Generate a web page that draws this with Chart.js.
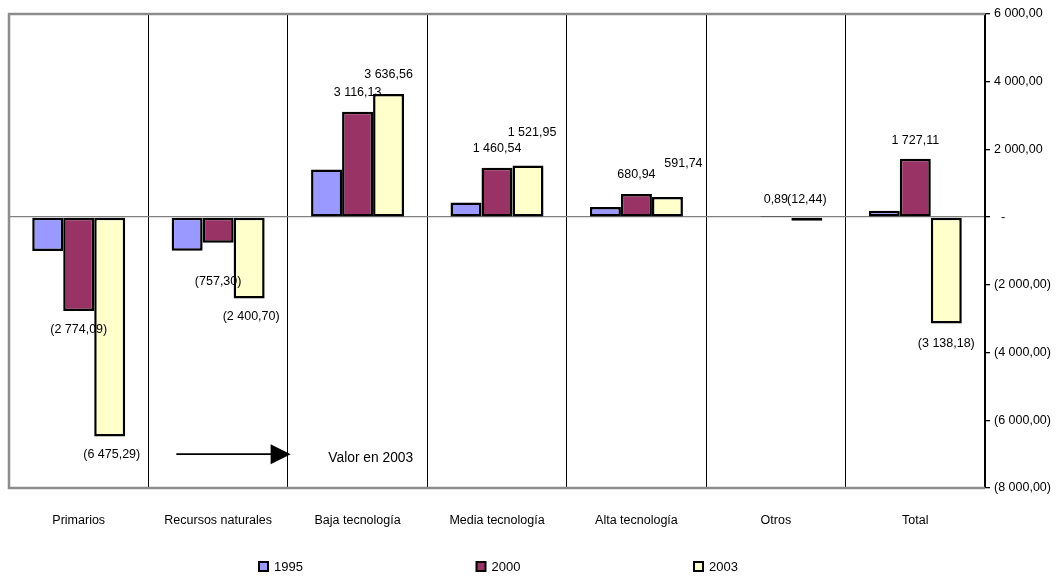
<!DOCTYPE html>
<html>
<head>
<meta charset="utf-8">
<script src="https://cdn.jsdelivr.net/npm/chart.js@4/dist/chart.umd.min.js"></script>
<style>
  html, body { margin: 0; padding: 0; background: #fff; }
  #wrap { width: 1059px; height: 576px; }
</style>
</head>
<body>
<div id="wrap"><canvas id="chart" width="1059" height="576"></canvas></div>
<script>
// Balance by technology intensity (millions), 1995 / 2000 / 2003
const categories = ['Primarios', 'Recursos naturales', 'Baja tecnología', 'Media tecnología', 'Alta tecnología', 'Otros', 'Total'];
const years = ['1995', '2000', '2003'];
const values1995 = [-1000, -990, 1410, 435, 300, 0, 190];
const values2000 = [-2774.09, -757.30, 3116.13, 1460.54, 680.94, 0.89, 1727.11];
const values2003 = [-6475.29, -2400.70, 3636.56, 1521.95, 591.74, -12.44, -3138.18];
const axisTicks = [6000, 4000, 2000, 0, -2000, -4000, -6000, -8000];
const noteText = 'Valor en 2003';

// pixel nudges for the value labels of 2000 and 2003 ([dx, dy] from the bar end)
const labelShift2000 = [[0, 18], [0, 39], [0, -19], [0, -19], [0, -20], [0, -18], [0, -18]];
const labelShift2003 = [[2, 18], [2, 18], [0, -19], [4, -33], [16, -34], [0, -18], [0, 20]];

const FONT = '"Liberation Sans", Arial, Helvetica, sans-serif';

// accounting style: 1 234,56 / (1 234,56) / -
function fmt(v, zeroDash) {
  if (v === 0 && zeroDash) return '  -';
  const s = Math.abs(v).toFixed(2).split('.');
  const int = s[0].replace(/\B(?=(\d{3})+(?!\d))/g, ' ');
  const txt = int + ',' + s[1];
  return v < 0 ? '(' + txt + ')' : txt;
}

const frame = {
  id: 'frame',
  beforeDatasetsDraw(chart) {
    const { ctx, chartArea: a } = chart;
    ctx.save();
    ctx.strokeStyle = '#8c8c8c';
    ctx.lineWidth = 2.5;
    ctx.beginPath();
    ctx.moveTo(a.right, a.top);
    ctx.lineTo(a.left, a.top);
    ctx.lineTo(a.left, a.bottom);
    ctx.lineTo(a.right, a.bottom);
    ctx.stroke();
    ctx.restore();
  }
};

const valueLabels = {
  id: 'valueLabels',
  afterDatasetsDraw(chart) {
    const { ctx } = chart;
    const y = chart.scales.y;
    const sets = [[1, values2000, labelShift2000], [2, values2003, labelShift2003]];
    ctx.save();
    ctx.font = '12.5px ' + FONT;
    ctx.fillStyle = '#000';
    ctx.textAlign = 'center';
    ctx.textBaseline = 'middle';
    sets.forEach(([di, vals, shift]) => {
      const meta = chart.getDatasetMeta(di);
      vals.forEach((v, i) => {
        const bar = meta.data[i];
        ctx.fillText(fmt(v, false), bar.x + shift[i][0], y.getPixelForValue(v) + shift[i][1]);
      });
    });
    ctx.restore();
  }
};

// arrow pointing to the 2003 value, with its note
const note = {
  id: 'note',
  afterDatasetsDraw(chart) {
    const { ctx } = chart;
    const x = chart.scales.x, y = chart.scales.y;
    const yy = y.getPixelForValue(-7000);
    const x0 = x.getPixelForValue(0.7);
    const tip = x.getPixelForValue(1.52);
    ctx.save();
    ctx.strokeStyle = '#000';
    ctx.fillStyle = '#000';
    ctx.lineWidth = 1.6;
    ctx.beginPath();
    ctx.moveTo(x0, yy);
    ctx.lineTo(tip - 16, yy);
    ctx.stroke();
    ctx.beginPath();
    ctx.moveTo(tip, yy);
    ctx.lineTo(tip - 20, yy - 10);
    ctx.lineTo(tip - 20, yy + 10);
    ctx.closePath();
    ctx.fill();
    ctx.font = '13.8px ' + FONT;
    ctx.textAlign = 'left';
    ctx.textBaseline = 'middle';
    ctx.fillText(noteText, x.getPixelForValue(1.79), y.getPixelForValue(-7120));
    ctx.restore();
  }
};

const legendRow = {
  id: 'legendRow',
  afterDraw(chart) {
    const { ctx } = chart;
    ctx.save();
    ctx.font = '13px ' + FONT;
    ctx.textBaseline = 'middle';
    ctx.textAlign = 'left';
    chart.data.datasets.forEach((ds, i) => {
      const bx = 259 + i * 217.5, by = 566.5;
      ctx.fillStyle = ds.backgroundColor;
      ctx.fillRect(bx, by - 4.5, 9, 9);
      ctx.strokeStyle = '#000';
      ctx.lineWidth = 2;
      ctx.strokeRect(bx, by - 4.5, 9, 9);
      ctx.fillStyle = '#000';
      ctx.fillText(ds.label, bx + 15, by + 0.5);
    });
    ctx.restore();
  }
};

const common = {
  borderColor: '#000',
  borderWidth: 2.5,
  borderSkipped: false,
  categoryPercentage: 0.667,
  barPercentage: 1.0
};

new Chart(document.getElementById('chart'), {
  type: 'bar',
  data: {
    labels: categories,
    datasets: [
      Object.assign({ label: years[0], data: values1995, backgroundColor: '#9999FF' }, common),
      Object.assign({ label: years[1], data: values2000, backgroundColor: '#993366' }, common),
      Object.assign({ label: years[2], data: values2003, backgroundColor: '#FFFFCC', minBarLength: 3.5 }, common)
    ]
  },
  options: {
    responsive: false,
    animation: false,
    devicePixelRatio: 1,
    layout: { padding: { left: 9, top: 14, right: 0, bottom: 38 } },
    plugins: { legend: { display: false }, tooltip: { enabled: false } },
    scales: {
      x: {
        offset: true,
        grid: { offset: true, color: '#000', lineWidth: 1, drawTicks: false },
        border: { display: false },
        ticks: { color: '#000', font: { family: FONT, size: 12.5 }, padding: 25, maxRotation: 0, autoSkip: false },
        afterFit(s) { s.height = 50; }
      },
      y: {
        position: 'right',
        min: -8000,
        max: 6000,
        afterBuildTicks(s) { s.ticks = axisTicks.map(v => ({ value: v })); },
        grid: {
          color: c => (c.tick && c.tick.value === 0 ? '#808080' : 'rgba(0,0,0,0)'),
          lineWidth: 1.3,
          tickColor: '#000',
          tickLength: 5,
          drawTicks: true
        },
        border: { display: true, color: '#000', width: 1.5 },
        ticks: {
          color: '#000',
          font: { family: FONT, size: 12.5 },
          padding: 4,
          align: 'center',
          callback: v => fmt(v, true)
        },
        afterFit(s) { s.width = 74; }
      }
    }
  },
  plugins: [frame, valueLabels, note, legendRow]
});
</script>
</body>
</html>
